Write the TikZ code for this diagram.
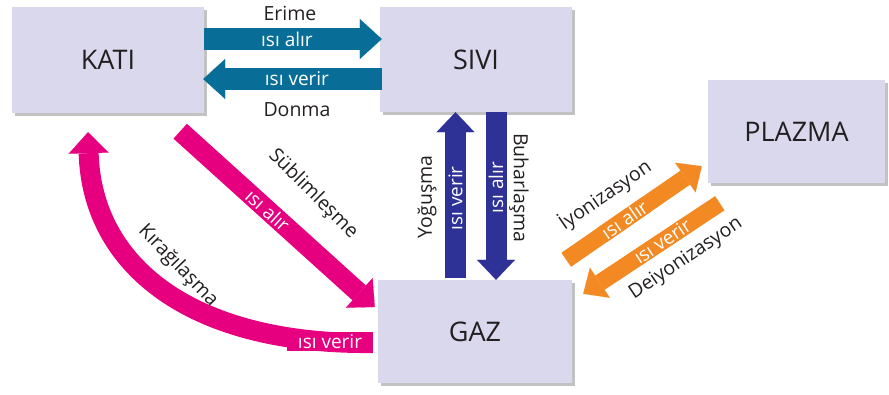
\documentclass[tikz,border=0pt]{standalone}
\usepackage{fontspec}
\setmainfont{Open Sans}
\usetikzlibrary{arrows.meta,calc,shadows}
\definecolor{boxfill}{RGB}{217,216,237}
\definecolor{tealc}{RGB}{8,110,152}
\definecolor{navyc}{RGB}{46,50,150}
\definecolor{magc}{RGB}{230,0,128}
\definecolor{orc}{RGB}{242,137,34}
\definecolor{txt}{RGB}{35,31,32}
\begin{document}
\begin{tikzpicture}[x=1pt,y=-1pt,
  state/.style={fill=boxfill, inner sep=0pt, text=txt,
    font=\fontsize{27}{32}\selectfont,
    drop shadow={shadow xshift=2.5pt, shadow yshift=-2.5pt, fill=black!40, opacity=0.6}},
  lbl/.style={text=txt, inner sep=1pt, font=\fontsize{19.5}{23}\selectfont},
  inlbl/.style={text=white, inner sep=1.2pt, font=\fontsize{19}{22}\selectfont},
  fatteal/.style={draw=tealc, line width=22pt, -{Triangle[length=22pt,width=40pt,line width=0.1pt]}},
  fatnavy/.style={draw=navyc, line width=21pt, -{Triangle[length=20pt,width=38pt,line width=0.1pt]}},
  fatmag/.style={draw=magc, line width=20pt, -{Triangle[length=21pt,width=40pt,line width=0.1pt]}},
  fator/.style={draw=orc, line width=17pt, -{Triangle[length=20pt,width=36pt,line width=0.1pt]}}
]
\useasboundingbox (0,0) rectangle (889,394);

% states
\node[state, minimum width=192pt, minimum height=106pt] (kati) at (108,60) {KATI};
\node[state, minimum width=192pt, minimum height=105pt] (sivi) at (476,59.5) {SIVI};
\node[state, minimum width=194pt, minimum height=103pt] (gaz) at (475,331.5) {GAZ};
\node[state, minimum width=177pt, minimum height=103pt] (plazma) at (796.5,131.5) {PLAZMA};

% KATI <-> SIVI
\draw[fatteal] ($(kati.east)+(0,-21)$) -- ($(sivi.west)+(2,-20.5)$)
  node[pos=0.466, inlbl, fill=tealc] (l1) {ısı alır};
\draw[fatteal] ($(sivi.west)+(2,19.5)$) -- ($(kati.east)+(-1,19)$)
  node[pos=0.475, inlbl, fill=tealc] (l2) {ısı verir};
\node[lbl] (erime) at (290,13) {Erime};
\node[lbl] (donma) at (297,110) {Donma};

% SIVI <-> GAZ
\draw[fatnavy] ($(gaz.north)+(-19.5,-2)$) -- ($(sivi.south)+(-20.5,0)$)
  node[pos=0.48, inlbl, fill=navyc, rotate=90] (l3) {ısı verir};
\draw[fatnavy] ($(sivi.south)+(20,0)$) -- ($(gaz.north)+(21,0)$)
  node[pos=0.45, inlbl, fill=navyc, rotate=90] (l4) {ısı alır};
\node[lbl, rotate=90] (yog) at (427,197) {Yoğuşma};
\node[lbl, rotate=-90] (buh) at (519,188) {Buharlaşma};

% KATI -> GAZ (Süblimleşme)
\draw[fatmag] ($(kati.south east)+(-24,18)$) -- ($(gaz.west)+(-3,-24.5)$)
  node[pos=0.45, inlbl, fill=magc, sloped] (l5) {ısı alır};
\node[lbl, rotate=-45] (subl) at (313,194) {Süblimleşme};

% GAZ -> KATI (Kırağılaşma)
\draw[fatmag] ($(gaz.west)+(-5,11.5)$) .. controls (190,345) and (92,265) .. ($(kati.south)+(-20,19)$);
\node[inlbl, fill=magc, minimum width=86pt, minimum height=19pt, inner sep=0pt] (l6) at (330,341.5) {ısı verir};
\node[lbl, rotate=-46] (kir) at (178,266) {Kırağılaşma};

% GAZ <-> PLAZMA
\draw[fator] ($(gaz.north east)+(-6,-20)$) -- ($(plazma.south west)+(-6,-17)$)
  node[pos=0.43, inlbl, fill=orc, sloped] (l7) {ısı alır};
\draw[fator] ($(plazma.south west)+(12,20)$) -- ($(gaz.north east)+(11,14)$)
  node[pos=0.42, inlbl, fill=orc, sloped] (l8) {ısı verir};
\node[lbl, rotate=34.6] (iyon) at (605,195) {İyonizasyon};
\node[lbl, rotate=34] (deiyon) at (686,259) {Deiyonizasyon};
\end{tikzpicture}
\end{document}
